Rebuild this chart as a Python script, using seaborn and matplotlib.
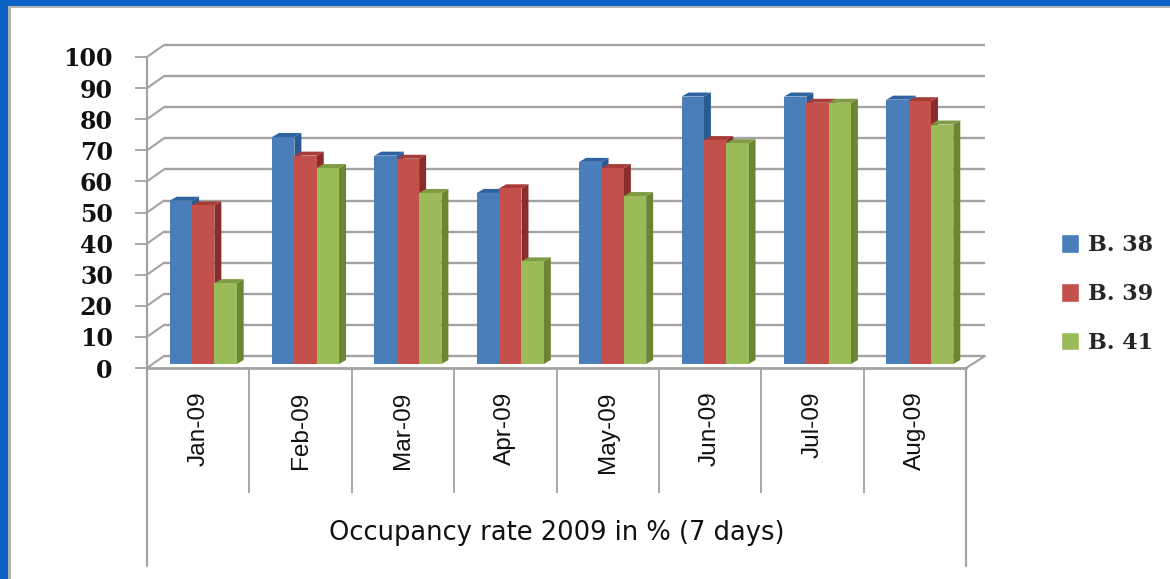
import matplotlib
matplotlib.use("Agg")
import matplotlib.pyplot as plt
import matplotlib.transforms as mtransforms
from matplotlib.patches import Polygon, Rectangle
import pandas as pd
import seaborn as sns

months = ["Jan-09", "Feb-09", "Mar-09", "Apr-09", "May-09", "Jun-09", "Jul-09", "Aug-09"]
b38 = [52.5, 73, 67, 55, 65, 86, 86, 85]
b39 = [51, 67, 66, 56.5, 63, 72, 84, 84.5]
b41 = [26, 63, 55, 33, 54, 71, 84, 77]
buildings = ["B. 38", "B. 39", "B. 41"]
y_ticks = list(range(0, 101, 10))

front = ["#4a7ebb", "#c4504c", "#9bbb59"]
side = ["#2a5a92", "#8a2c2c", "#6b8535"]
top = ["#2f639f", "#a83c38", "#7f9c44"]

W, H = 1170, 579
GRID = "#a3a3a3"

df = pd.DataFrame({"month": months * 3,
                   "rate": b38 + b39 + b41,
                   "building": [b for b in buildings for _ in months]})

sns.set_theme(style="white")
plt.rcParams["font.family"] = ["DejaVu Serif"]

fig = plt.figure(figsize=(W / 100, H / 100), dpi=100, facecolor="white")
# plot box: x 147..966, y 368..57 in picture pixels
ax = fig.add_axes([147 / W, 1 - 368 / H, 819 / W, 311 / H])
sns.barplot(data=df, x="month", y="rate", hue="building", order=months, hue_order=buildings,
            palette=front, saturation=1, width=0.654, gap=0, errorbar=None, ax=ax)
ax.set_xlim(-0.5, 7.5)
ax.set_ylim(0, 100)
ax.patch.set_visible(False)
for s in ax.spines.values():
    s.set_visible(False)

# pixel to data sizes
px_x = 8 / 819
px_y = 100 / 311


def shifted(dx, dy):
    return ax.transData + mtransforms.ScaledTranslation(dx / 100, dy / 100, fig.dpi_scale_trans)


# back wall and floor
back = shifted(17, 12)
ax.hlines(y_ticks, -0.5, 7.5 + 2 * px_x, colors=GRID, lw=1.7, transform=back, zorder=1, clip_on=False)
for v in y_ticks:
    ax.plot([-0.5, -0.5 + 17 * px_x], [v, v + 12 * px_y], color=GRID, lw=1.5, zorder=1, clip_on=False)
ax.plot([7.5, 7.5 + 19 * px_x], [0, 12 * px_y], color=GRID, lw=1.5, zorder=1, clip_on=False)

# front axes lines and the category table under the chart
ax.plot([-0.5, -0.5], [100, (368 - 566) * px_y], color=GRID, lw=1.6, zorder=2, clip_on=False)
ax.plot([7.5, 7.5], [0, (368 - 566) * px_y], color=GRID, lw=1.6, zorder=2, clip_on=False)
ax.plot([-0.5, 7.5], [0, 0], color=GRID, lw=2, zorder=2, clip_on=False)
ax.vlines([i + 0.5 for i in range(7)], (368 - 493) * px_y, 0, colors=GRID, lw=1.3, zorder=2, clip_on=False)

# 3d look: every bar gets a top and a side face
depth_x = 7 * px_x
depth_y = 4 * px_y
bar_shift = shifted(5, 4)
n = len(months)
for i, bar in enumerate(ax.patches[:n * 3]):
    k = i // n
    x0 = bar.get_x()
    x1 = x0 + bar.get_width()
    h = bar.get_height()
    z = 3 + k + bar.get_x() / 100
    bar.set_transform(bar_shift)
    bar.set_zorder(z + 0.2)
    bar.set_edgecolor("none")
    bar.set_clip_on(False)
    ax.add_patch(Polygon([(x1, 0), (x1 + depth_x, depth_y), (x1 + depth_x, h + depth_y), (x1, h)],
                         closed=True, fc=side[k], ec="none", transform=bar_shift, zorder=z, clip_on=False))
    ax.add_patch(Polygon([(x0, h), (x0 + depth_x, h + depth_y), (x1 + depth_x, h + depth_y), (x1, h)],
                         closed=True, fc=top[k], ec="none", transform=bar_shift, zorder=z + 0.1, clip_on=False))

ax.set_yticks(y_ticks)
ax.set_yticklabels(y_ticks, fontsize=17, fontweight="bold", color="#111111", va="center_baseline")
ax.tick_params(axis="y", left=True, length=8.6, width=1.3, color=GRID, pad=16)
ax.set_xticks(range(n))
ax.set_xticklabels(months, rotation=90, fontsize=17.6, color="#111111",
                   family=["Liberation Sans"], va="top")
ax.tick_params(axis="x", bottom=False, pad=11)
ax.set_xlabel("Occupancy rate 2009 in % (7 days)", fontsize=18.5, color="#111111", va="center",
              family=["DejaVu Sans"])
ax.xaxis.set_label_coords(0.5, -165 / 311)
ax.set_ylabel("")

ax.legend(loc="center left", bbox_to_anchor=(1061 / W, 1 - 294 / H), bbox_transform=fig.transFigure,
          frameon=False, ncol=1, prop={"size": 16, "weight": "bold"}, handlelength=0.81, handleheight=0.9,
          handletextpad=0.42, labelspacing=1.2, borderpad=0, borderaxespad=0)

# slide frame: blue band on top and left, thin grey edge inside it
fig.add_artist(Rectangle((8 / W, 0), 1 - 8 / W, 1 - 8 / H, transform=fig.transFigure, fc="white", ec="none", zorder=-5))
fig.add_artist(Rectangle((0, 0), 8 / W, 1, transform=fig.transFigure, fc="#0a62c4", ec="none", zorder=-4))
fig.add_artist(Rectangle((0, 1 - 6 / H), 1, 6 / H, transform=fig.transFigure, fc="#0a62c4", ec="none", zorder=-4))
fig.add_artist(Rectangle((8 / W, 0), 2.5 / W, 1 - 6 / H, transform=fig.transFigure, fc="#b4b4b4", ec="none", zorder=-3))
fig.add_artist(Rectangle((8 / W, 1 - 8 / H), 1 - 8 / W, 2 / H, transform=fig.transFigure, fc="#b4b4b4", ec="none", zorder=-3))

fig.savefig("out.png", dpi=100)
